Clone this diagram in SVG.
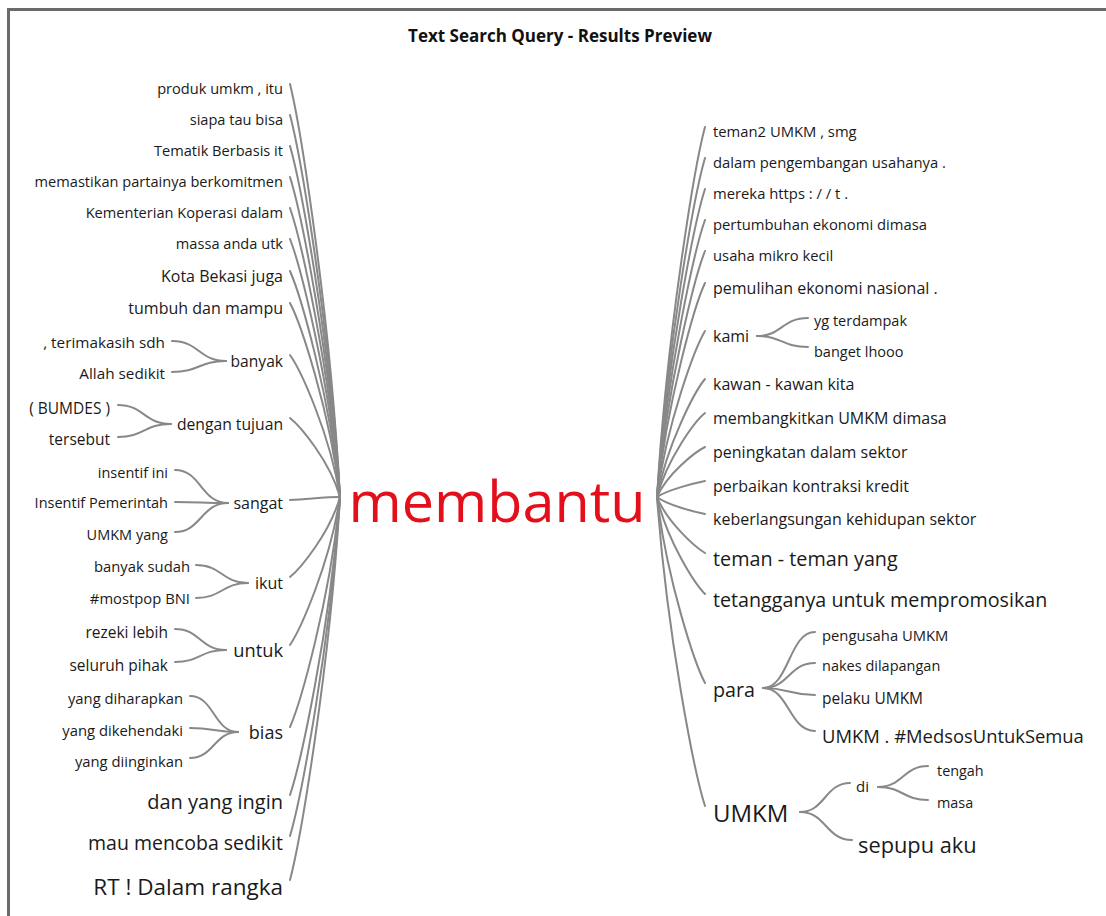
<svg xmlns="http://www.w3.org/2000/svg" width="1106" height="916" viewBox="0 0 1106 916">
<style>
text{font-family:"Open Sans","Noto Sans","Liberation Sans",sans-serif;fill:#1a1a1a}
.l{text-anchor:end}
.c path{fill:none;stroke:#888;stroke-width:2;stroke-linecap:round}
</style>
<rect width="1106" height="916" fill="#fff"/>
<path d="M7,9.5 H1106 M8.5,8 V916" stroke="#6a6a6a" stroke-width="3" fill="none"/>
<text x="560" y="42" text-anchor="middle" style="font-weight:700;font-size:17px;fill:#111">Text Search Query - Results Preview</text>
<g class="c" id="connectors">
<path d="M290,84 C300,125 330,311 340,497"/>
<path d="M290,115 C300,153 330,325 340,497"/>
<path d="M290,146 C300,181 330,339 340,497"/>
<path d="M290,177 C300,209 330,353 340,497"/>
<path d="M290,208 C300,237 330,367 340,497"/>
<path d="M290,239 C300,265 330,381 340,497"/>
<path d="M290,271 C300,294 330,395 340,497"/>
<path d="M290,303 C300,322 330,410 340,497"/>
<path d="M290,355 C300,369 330,433 340,497"/>
<path d="M290,418 C300,426 330,461 340,497"/>
<path d="M290,500 C310,499 325,497 340,497"/>
<path d="M290,577 C300,569 330,533 340,497"/>
<path d="M290,645 C300,630 330,564 340,497"/>
<path d="M290,727 C300,704 330,601 340,497"/>
<path d="M290,795 C300,765 330,631 340,497"/>
<path d="M290,836 C300,802 330,650 340,497"/>
<path d="M290,880 C300,842 330,669 340,497"/>
<path d="M705,127 C695,164 667,331 657,497"/>
<path d="M705,158 C695,192 667,344 657,497"/>
<path d="M705,189 C695,220 667,358 657,497"/>
<path d="M705,220 C695,248 667,372 657,497"/>
<path d="M705,251 C695,276 667,386 657,497"/>
<path d="M705,283 C695,304 667,401 657,497"/>
<path d="M705,331 C695,348 667,422 657,497"/>
<path d="M705,379 C695,391 667,444 657,497"/>
<path d="M705,413 C695,421 667,459 657,497"/>
<path d="M705,447 C695,452 667,474 657,497"/>
<path d="M705,481 C695,483 667,490 657,497"/>
<path d="M705,514 C695,512 667,505 657,497"/>
<path d="M705,553 C695,547 667,522 657,497"/>
<path d="M705,594 C695,584 667,541 657,497"/>
<path d="M705,683 C695,664 667,581 657,497"/>
<path d="M705,806 C695,775 667,636 657,497"/>
<path d="M226,361 C199,361 199,341 172,341"/>
<path d="M226,361 C199,361 199,372 172,372"/>
<path d="M171,424 C144,424 144,405 118,405"/>
<path d="M171,424 C144,424 144,437 118,437"/>
<path d="M228,503 C201,503 201,470 175,470"/>
<path d="M228,503 C201,503 201,502 175,502"/>
<path d="M228,503 C201,503 201,532 175,532"/>
<path d="M248,583 C222,583 222,565 196,565"/>
<path d="M248,583 C222,583 222,598 196,598"/>
<path d="M226,650 C200,650 200,629 175,629"/>
<path d="M226,650 C200,650 200,662 175,662"/>
<path d="M238,732 C214,732 214,696 190,696"/>
<path d="M238,732 C214,732 214,728 190,728"/>
<path d="M238,732 C214,732 214,758 190,758"/>
<path d="M757,336 C782,336 782,318 808,318"/>
<path d="M757,336 C782,336 782,347 808,347"/>
<path d="M763,688 C789,688 789,632 815,632"/>
<path d="M763,688 C789,688 789,663 815,663"/>
<path d="M763,688 C789,688 789,695 815,695"/>
<path d="M763,688 C789,688 789,731 815,731"/>
<path d="M800,812 C825,812 825,783 850,783"/>
<path d="M800,812 C826,812 826,840 852,840"/>
<path d="M878,787 C903,787 903,766 928,766"/>
<path d="M878,787 C903,787 903,800 928,800"/>
</g>
<g id="root"><text x="497" y="522" text-anchor="middle" style="font-size:57.5px;fill:#e3101b">membantu</text></g>
<g id="left">
<g id="n-l1"><text class="l" font-size="14.6" x="283" y="94">produk umkm , itu</text></g>
<g id="n-l2"><text class="l" font-size="14.6" x="283" y="125">siapa tau bisa</text></g>
<g id="n-l3"><text class="l" font-size="14.6" x="283" y="156">Tematik Berbasis it</text></g>
<g id="n-l4"><text class="l" font-size="14.6" x="283" y="187">memastikan partainya berkomitmen</text></g>
<g id="n-l5"><text class="l" font-size="14.6" x="283" y="218">Kementerian Koperasi dalam</text></g>
<g id="n-l6"><text class="l" font-size="14.6" x="283" y="249">massa anda utk</text></g>
<g id="n-l7"><text class="l" font-size="16" x="283" y="282">Kota Bekasi juga</text></g>
<g id="n-l8"><text class="l" font-size="16" x="283" y="314">tumbuh dan mampu</text></g>
<g id="n-l9"><text class="l" font-size="15.6" x="283" y="367">banyak</text>
<text class="l" font-size="15.3" x="165" y="348">, terimakasih sdh</text><text class="l" font-size="15.3" x="165" y="379">Allah sedikit</text></g>
<g id="n-l10"><text class="l" font-size="15.7" x="283" y="430">dengan tujuan</text>
<text class="l" font-size="15.5" x="110" y="414">( BUMDES )</text><text class="l" font-size="15.5" x="110" y="445">tersebut</text></g>
<g id="n-l11"><text class="l" font-size="16" x="283" y="509">sangat</text>
<text class="l" font-size="14.5" x="168" y="478">insentif ini</text><text class="l" font-size="14.5" x="168" y="508">Insentif Pemerintah</text><text class="l" font-size="14.5" x="168" y="540">UMKM yang</text></g>
<g id="n-l12"><text class="l" font-size="16" x="283" y="589">ikut</text>
<text class="l" font-size="14.8" x="190" y="572">banyak sudah</text><text class="l" font-size="14.8" x="190" y="604">#mostpop BNI</text></g>
<g id="n-l13"><text class="l" font-size="18.3" x="283" y="657">untuk</text>
<text class="l" font-size="15.5" x="168" y="638">rezeki lebih</text><text class="l" font-size="15.5" x="168" y="671">seluruh pihak</text></g>
<g id="n-l14"><text class="l" font-size="18" x="283" y="739">bias</text>
<text class="l" font-size="14.8" x="183" y="704">yang diharapkan</text><text class="l" font-size="14.8" x="183" y="736">yang dikehendaki</text><text class="l" font-size="14.8" x="183" y="767">yang diinginkan</text></g>
<g id="n-l15"><text class="l" font-size="20" x="283" y="809">dan yang ingin</text></g>
<g id="n-l16"><text class="l" font-size="19.5" x="283" y="850">mau mencoba sedikit</text></g>
<g id="n-l17"><text class="l" font-size="22.5" x="283" y="895">RT ! Dalam rangka</text></g>
</g>
<g id="right">
<g id="n-r1"><text font-size="14.8" x="713" y="137">teman2 UMKM , smg</text></g>
<g id="n-r2"><text font-size="14.8" x="713" y="168">dalam pengembangan usahanya .</text></g>
<g id="n-r3"><text font-size="14.8" x="713" y="199">mereka https : / / t .</text></g>
<g id="n-r4"><text font-size="14.8" x="713" y="230">pertumbuhan ekonomi dimasa</text></g>
<g id="n-r5"><text font-size="14.8" x="713" y="261">usaha mikro kecil</text></g>
<g id="n-r6"><text font-size="16" x="713" y="294">pemulihan ekonomi nasional .</text></g>
<g id="n-r7"><text font-size="16" x="713" y="342">kami</text>
<text font-size="14.5" x="814" y="326">yg terdampak</text><text font-size="14.5" x="814" y="357">banget lhooo</text></g>
<g id="n-r8"><text font-size="16" x="713" y="390">kawan - kawan kita</text></g>
<g id="n-r9"><text font-size="16" x="713" y="424">membangkitkan UMKM dimasa</text></g>
<g id="n-r10"><text font-size="16" x="713" y="458">peningkatan dalam sektor</text></g>
<g id="n-r11"><text font-size="16" x="713" y="492">perbaikan kontraksi kredit</text></g>
<g id="n-r12"><text font-size="16" x="713" y="525">keberlangsungan kehidupan sektor</text></g>
<g id="n-r13"><text font-size="19.8" x="713" y="566">teman - teman yang</text></g>
<g id="n-r14"><text font-size="19.7" x="713" y="607">tetangganya untuk mempromosikan</text></g>
<g id="n-r15"><text font-size="19.7" x="713" y="697">para</text>
<text font-size="14.8" x="822" y="641">pengusaha UMKM</text><text font-size="14.5" x="822" y="671">nakes dilapangan</text><text font-size="15.5" x="822" y="704">pelaku UMKM</text><text font-size="18.4" x="822" y="743">UMKM . #MedsosUntukSemua</text></g>
<g id="n-r16"><text font-size="24" x="713" y="822">UMKM</text>
<text font-size="15" x="856" y="792">di</text><text font-size="14.4" x="937" y="776">tengah</text><text font-size="14.4" x="937" y="808">masa</text>
<text font-size="21.8" x="858" y="853">sepupu aku</text></g>
</g>
</svg>
